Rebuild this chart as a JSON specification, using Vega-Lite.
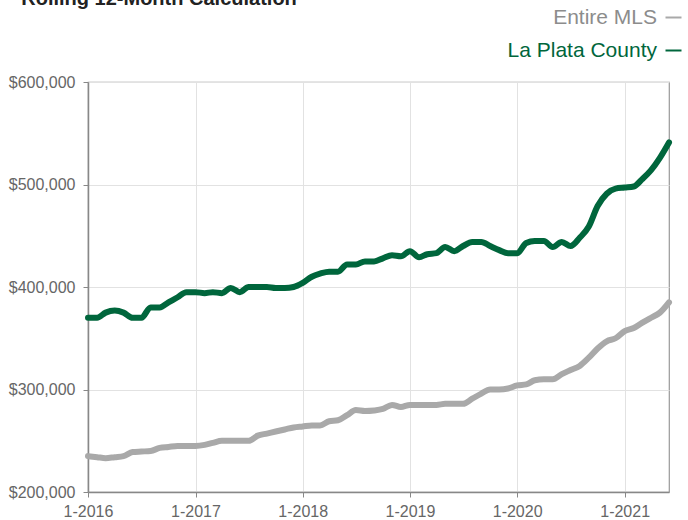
{
  "$schema": "https://vega.github.io/schema/vega-lite/v6.json",
  "width": 581,
  "height": 410,
  "autosize": {"type": "none"},
  "padding": {"left": 88, "top": 82, "right": 19, "bottom": 28},
  "background": "white",
  "title": {
    "text": "Rolling 12-Month Calculation",
    "anchor": "start",
    "frame": "bounds",
    "font": "Liberation Sans",
    "fontSize": 20,
    "fontWeight": "bold",
    "color": "#222222",
    "baseline": "alphabetic",
    "offset": 3,
    "dx": 13,
    "dy": 21
  },
  "config": {
    "font": "Liberation Sans",
    "view": {"stroke": "#999999", "strokeWidth": 1.2},
    "axis": {
      "labelFont": "Liberation Sans",
      "labelFontSize": 16,
      "labelColor": "#666666",
      "gridColor": "#e2e2e2",
      "gridWidth": 1,
      "domainColor": "#888888",
      "domainWidth": 1.5,
      "tickColor": "#888888",
      "tickSize": 5,
      "title": null
    }
  },
  "data": {
    "values": [
      {"date": "2016-01-01", "series": "Entire MLS", "price": 235000},
      {"date": "2016-02-01", "series": "Entire MLS", "price": 234000},
      {"date": "2016-03-01", "series": "Entire MLS", "price": 233000},
      {"date": "2016-04-01", "series": "Entire MLS", "price": 234000},
      {"date": "2016-05-01", "series": "Entire MLS", "price": 235000},
      {"date": "2016-06-01", "series": "Entire MLS", "price": 239000},
      {"date": "2016-07-01", "series": "Entire MLS", "price": 239500},
      {"date": "2016-08-01", "series": "Entire MLS", "price": 240000},
      {"date": "2016-09-01", "series": "Entire MLS", "price": 243000},
      {"date": "2016-10-01", "series": "Entire MLS", "price": 244000},
      {"date": "2016-11-01", "series": "Entire MLS", "price": 245000},
      {"date": "2016-12-01", "series": "Entire MLS", "price": 245000},
      {"date": "2017-01-01", "series": "Entire MLS", "price": 245000},
      {"date": "2017-02-01", "series": "Entire MLS", "price": 246000},
      {"date": "2017-03-01", "series": "Entire MLS", "price": 248000},
      {"date": "2017-04-01", "series": "Entire MLS", "price": 250000},
      {"date": "2017-05-01", "series": "Entire MLS", "price": 250000},
      {"date": "2017-06-01", "series": "Entire MLS", "price": 250000},
      {"date": "2017-07-01", "series": "Entire MLS", "price": 250000},
      {"date": "2017-08-01", "series": "Entire MLS", "price": 255000},
      {"date": "2017-09-01", "series": "Entire MLS", "price": 257000},
      {"date": "2017-10-01", "series": "Entire MLS", "price": 259000},
      {"date": "2017-11-01", "series": "Entire MLS", "price": 261000},
      {"date": "2017-12-01", "series": "Entire MLS", "price": 263000},
      {"date": "2018-01-01", "series": "Entire MLS", "price": 264000},
      {"date": "2018-02-01", "series": "Entire MLS", "price": 265000},
      {"date": "2018-03-01", "series": "Entire MLS", "price": 265000},
      {"date": "2018-04-01", "series": "Entire MLS", "price": 269000},
      {"date": "2018-05-01", "series": "Entire MLS", "price": 270000},
      {"date": "2018-06-01", "series": "Entire MLS", "price": 275000},
      {"date": "2018-07-01", "series": "Entire MLS", "price": 280000},
      {"date": "2018-08-01", "series": "Entire MLS", "price": 279000},
      {"date": "2018-09-01", "series": "Entire MLS", "price": 279500},
      {"date": "2018-10-01", "series": "Entire MLS", "price": 281000},
      {"date": "2018-11-01", "series": "Entire MLS", "price": 285000},
      {"date": "2018-12-01", "series": "Entire MLS", "price": 283000},
      {"date": "2019-01-01", "series": "Entire MLS", "price": 285000},
      {"date": "2019-02-01", "series": "Entire MLS", "price": 285000},
      {"date": "2019-03-01", "series": "Entire MLS", "price": 285000},
      {"date": "2019-04-01", "series": "Entire MLS", "price": 285000},
      {"date": "2019-05-01", "series": "Entire MLS", "price": 286000},
      {"date": "2019-06-01", "series": "Entire MLS", "price": 286000},
      {"date": "2019-07-01", "series": "Entire MLS", "price": 286000},
      {"date": "2019-08-01", "series": "Entire MLS", "price": 291000},
      {"date": "2019-09-01", "series": "Entire MLS", "price": 296000},
      {"date": "2019-10-01", "series": "Entire MLS", "price": 300000},
      {"date": "2019-11-01", "series": "Entire MLS", "price": 300000},
      {"date": "2019-12-01", "series": "Entire MLS", "price": 301000},
      {"date": "2020-01-01", "series": "Entire MLS", "price": 304000},
      {"date": "2020-02-01", "series": "Entire MLS", "price": 305000},
      {"date": "2020-03-01", "series": "Entire MLS", "price": 309000},
      {"date": "2020-04-01", "series": "Entire MLS", "price": 310000},
      {"date": "2020-05-01", "series": "Entire MLS", "price": 310000},
      {"date": "2020-06-01", "series": "Entire MLS", "price": 315000},
      {"date": "2020-07-01", "series": "Entire MLS", "price": 319000},
      {"date": "2020-08-01", "series": "Entire MLS", "price": 323000},
      {"date": "2020-09-01", "series": "Entire MLS", "price": 331000},
      {"date": "2020-10-01", "series": "Entire MLS", "price": 340000},
      {"date": "2020-11-01", "series": "Entire MLS", "price": 347000},
      {"date": "2020-12-01", "series": "Entire MLS", "price": 350000},
      {"date": "2021-01-01", "series": "Entire MLS", "price": 357000},
      {"date": "2021-02-01", "series": "Entire MLS", "price": 360000},
      {"date": "2021-03-01", "series": "Entire MLS", "price": 365000},
      {"date": "2021-04-01", "series": "Entire MLS", "price": 370000},
      {"date": "2021-05-01", "series": "Entire MLS", "price": 375000},
      {"date": "2021-06-01", "series": "Entire MLS", "price": 385000},
      {"date": "2016-01-01", "series": "La Plata County", "price": 370000},
      {"date": "2016-02-01", "series": "La Plata County", "price": 370000},
      {"date": "2016-03-01", "series": "La Plata County", "price": 375000},
      {"date": "2016-04-01", "series": "La Plata County", "price": 377000},
      {"date": "2016-05-01", "series": "La Plata County", "price": 375000},
      {"date": "2016-06-01", "series": "La Plata County", "price": 370000},
      {"date": "2016-07-01", "series": "La Plata County", "price": 370000},
      {"date": "2016-08-01", "series": "La Plata County", "price": 380000},
      {"date": "2016-09-01", "series": "La Plata County", "price": 380000},
      {"date": "2016-10-01", "series": "La Plata County", "price": 385000},
      {"date": "2016-11-01", "series": "La Plata County", "price": 390000},
      {"date": "2016-12-01", "series": "La Plata County", "price": 395000},
      {"date": "2017-01-01", "series": "La Plata County", "price": 395000},
      {"date": "2017-02-01", "series": "La Plata County", "price": 394000},
      {"date": "2017-03-01", "series": "La Plata County", "price": 395000},
      {"date": "2017-04-01", "series": "La Plata County", "price": 394000},
      {"date": "2017-05-01", "series": "La Plata County", "price": 399000},
      {"date": "2017-06-01", "series": "La Plata County", "price": 395000},
      {"date": "2017-07-01", "series": "La Plata County", "price": 400000},
      {"date": "2017-08-01", "series": "La Plata County", "price": 400000},
      {"date": "2017-09-01", "series": "La Plata County", "price": 400000},
      {"date": "2017-10-01", "series": "La Plata County", "price": 399000},
      {"date": "2017-11-01", "series": "La Plata County", "price": 399000},
      {"date": "2017-12-01", "series": "La Plata County", "price": 400000},
      {"date": "2018-01-01", "series": "La Plata County", "price": 404000},
      {"date": "2018-02-01", "series": "La Plata County", "price": 410000},
      {"date": "2018-03-01", "series": "La Plata County", "price": 413000},
      {"date": "2018-04-01", "series": "La Plata County", "price": 415000},
      {"date": "2018-05-01", "series": "La Plata County", "price": 415000},
      {"date": "2018-06-01", "series": "La Plata County", "price": 422000},
      {"date": "2018-07-01", "series": "La Plata County", "price": 422000},
      {"date": "2018-08-01", "series": "La Plata County", "price": 425000},
      {"date": "2018-09-01", "series": "La Plata County", "price": 425000},
      {"date": "2018-10-01", "series": "La Plata County", "price": 428000},
      {"date": "2018-11-01", "series": "La Plata County", "price": 431000},
      {"date": "2018-12-01", "series": "La Plata County", "price": 430000},
      {"date": "2019-01-01", "series": "La Plata County", "price": 435000},
      {"date": "2019-02-01", "series": "La Plata County", "price": 429000},
      {"date": "2019-03-01", "series": "La Plata County", "price": 432000},
      {"date": "2019-04-01", "series": "La Plata County", "price": 433000},
      {"date": "2019-05-01", "series": "La Plata County", "price": 439000},
      {"date": "2019-06-01", "series": "La Plata County", "price": 435000},
      {"date": "2019-07-01", "series": "La Plata County", "price": 440000},
      {"date": "2019-08-01", "series": "La Plata County", "price": 444000},
      {"date": "2019-09-01", "series": "La Plata County", "price": 444000},
      {"date": "2019-10-01", "series": "La Plata County", "price": 440000},
      {"date": "2019-11-01", "series": "La Plata County", "price": 436000},
      {"date": "2019-12-01", "series": "La Plata County", "price": 433000},
      {"date": "2020-01-01", "series": "La Plata County", "price": 433000},
      {"date": "2020-02-01", "series": "La Plata County", "price": 443000},
      {"date": "2020-03-01", "series": "La Plata County", "price": 445000},
      {"date": "2020-04-01", "series": "La Plata County", "price": 445000},
      {"date": "2020-05-01", "series": "La Plata County", "price": 439000},
      {"date": "2020-06-01", "series": "La Plata County", "price": 444000},
      {"date": "2020-07-01", "series": "La Plata County", "price": 440000},
      {"date": "2020-08-01", "series": "La Plata County", "price": 448000},
      {"date": "2020-09-01", "series": "La Plata County", "price": 459000},
      {"date": "2020-10-01", "series": "La Plata County", "price": 479000},
      {"date": "2020-11-01", "series": "La Plata County", "price": 491000},
      {"date": "2020-12-01", "series": "La Plata County", "price": 496000},
      {"date": "2021-01-01", "series": "La Plata County", "price": 497000},
      {"date": "2021-02-01", "series": "La Plata County", "price": 498000},
      {"date": "2021-03-01", "series": "La Plata County", "price": 505000},
      {"date": "2021-04-01", "series": "La Plata County", "price": 514000},
      {"date": "2021-05-01", "series": "La Plata County", "price": 526000},
      {"date": "2021-06-01", "series": "La Plata County", "price": 541000}
    ]
  },
  "mark": {"type": "line", "strokeWidth": 6, "interpolate": "monotone", "strokeCap": "round", "strokeJoin": "round"},
  "encoding": {
    "x": {
      "field": "date",
      "type": "temporal",
      "scale": {"type": "utc", "domain": [{"year": 2016, "month": 1, "date": 1, "utc": true}, {"year": 2021, "month": 6, "date": 1, "utc": true}]},
      "axis": {"format": "%-m-%Y", "tickCount": {"interval": "year", "step": 1}, "labelPadding": 6, "labelFlush": false}
    },
    "y": {
      "field": "price",
      "type": "quantitative",
      "scale": {"domain": [200000, 600000], "nice": false, "zero": false},
      "axis": {"format": "$,.0f", "values": [200000, 300000, 400000, 500000, 600000], "labelPadding": 8}
    },
    "color": {
      "field": "series",
      "type": "nominal",
      "scale": {"domain": ["Entire MLS", "La Plata County"], "range": ["#a9a9a9", "#00663c"]},
      "legend": {
        "title": null,
        "orient": "none",
        "legendX": 575,
        "legendY": -75,
        "padding": 0,
        "symbolType": "stroke",
        "symbolSize": 256,
        "symbolStrokeWidth": 2,
        "labelAlign": "right",
        "labelOffset": -27,
        "labelFont": "Liberation Sans",
        "labelFontSize": 21,
        "labelLimit": 300,
        "rowPadding": 11,
        "encode": {"labels": {"update": {"fill": [{"test": "datum.value === 'Entire MLS'", "value": "#8c8c8c"}, {"value": "#00663c"}]}}}
      }
    }
  }
}
